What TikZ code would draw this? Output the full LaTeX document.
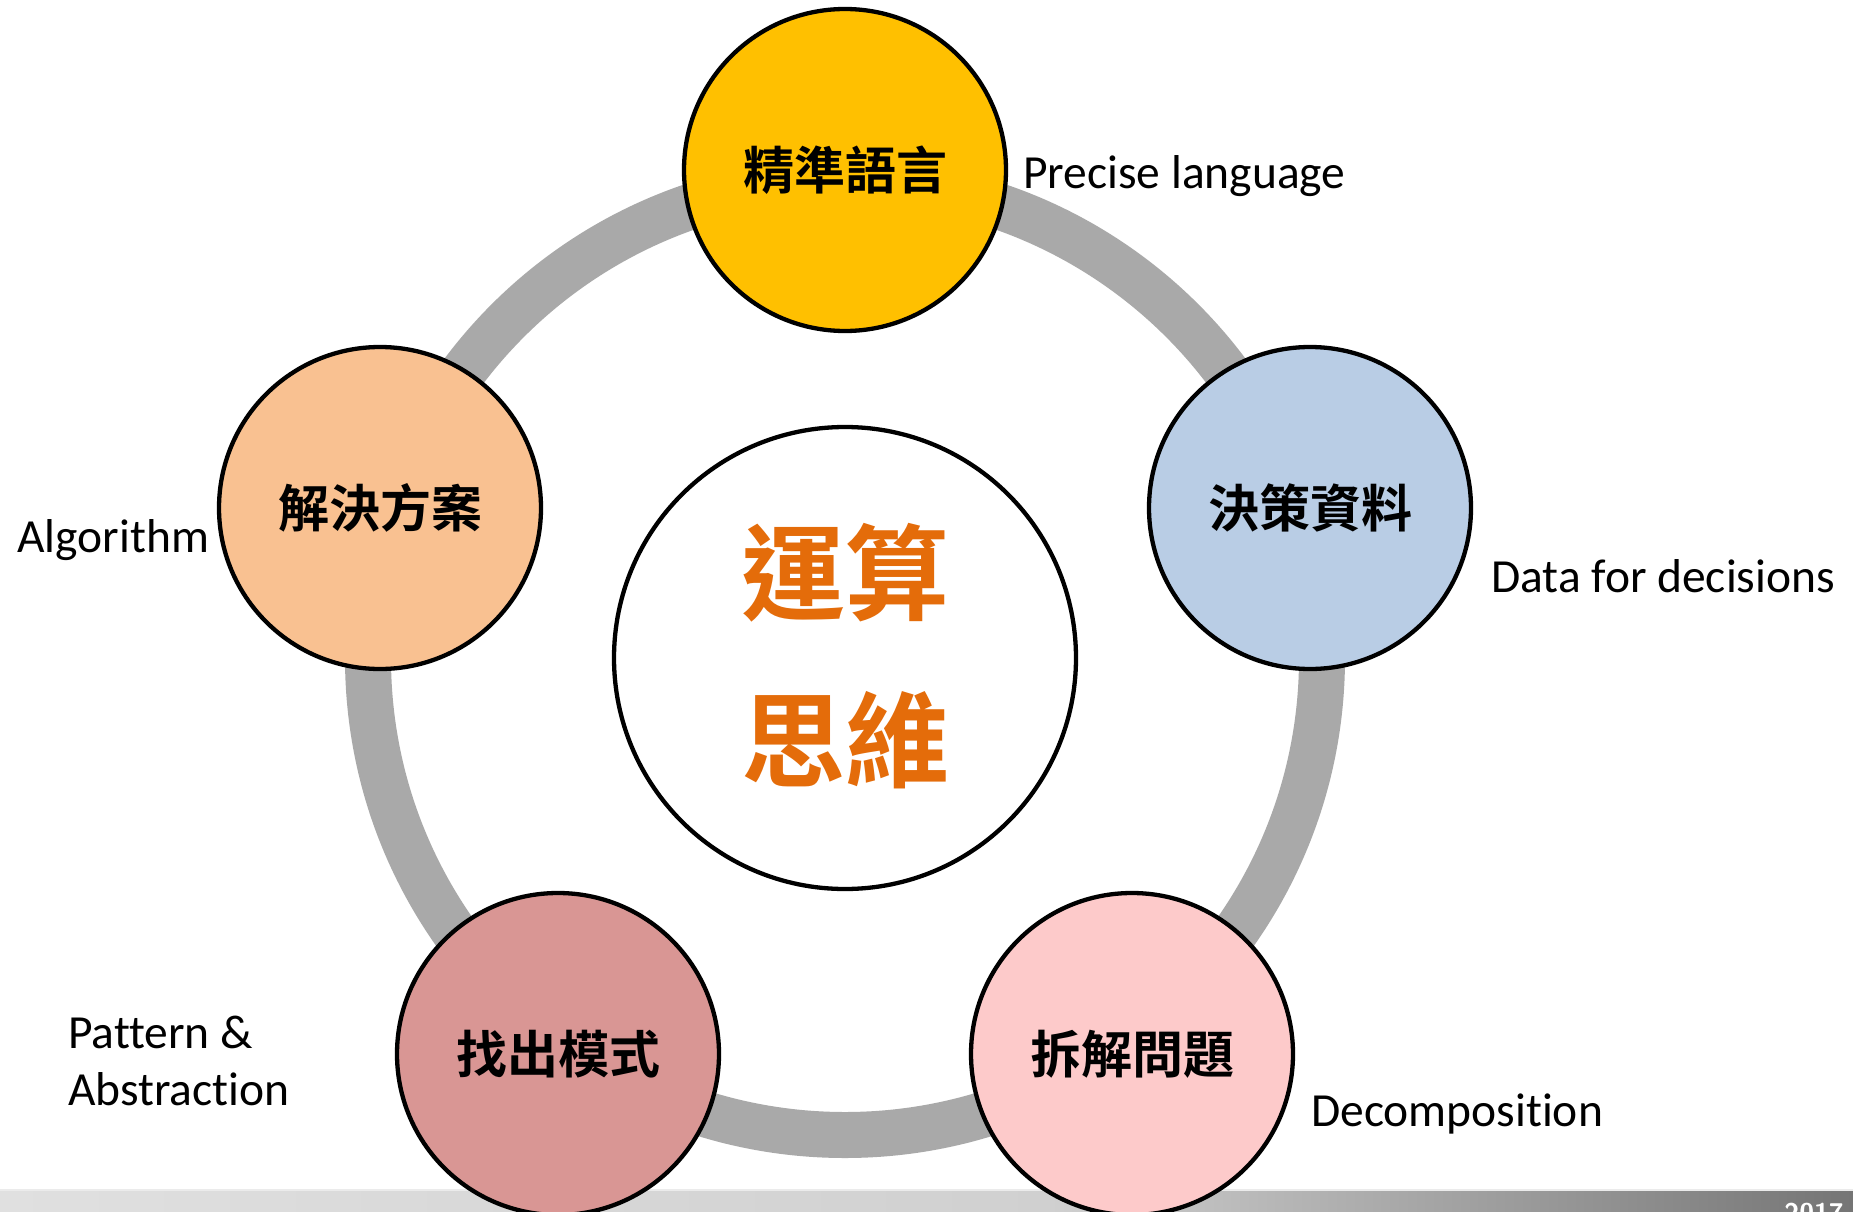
\documentclass[tikz,border=0pt]{standalone}
\usepackage{fontspec}
\setmainfont[Ligatures={NoCommon}]{Carlito}
\newfontfamily\cjkb{Noto Sans CJK TC Bold}
\usetikzlibrary{calc}
\definecolor{ringgray}{HTML}{A9A9A9}
\definecolor{cyellow}{HTML}{FFC000}
\definecolor{cpeach}{HTML}{F9C191}
\definecolor{cblue}{HTML}{B9CDE5}
\definecolor{crose}{HTML}{D99694}
\definecolor{cpink}{HTML}{FDCACA}
\definecolor{corange}{HTML}{E46C0A}
\tikzset{
  topic/.style={circle, draw=black, line width=4.3pt, minimum size=322pt, inner sep=0pt,
    font=\cjkb\fontsize{51}{60}\selectfont},
  eng/.style={inner sep=0pt, font=\fontsize{47.5}{56}\selectfont, anchor=base west},
}
\begin{document}
\begin{tikzpicture}[x=1pt,y=-1pt]
\useasboundingbox (0,0) rectangle (1853,1212);
\fill[white] (0,0) rectangle (1853,1212);
% bottom bar
\shade[left color={rgb,255:red,224;green,224;blue,224}, right color={rgb,255:red,208;green,208;blue,208}] (0,1190) rectangle (1050,1212);
\shade[left color={rgb,255:red,208;green,208;blue,208}, right color={rgb,255:red,117;green,117;blue,117}] (1050,1190) rectangle (1853,1212);
\fill[black!8] (0,1189) rectangle (1853,1191);
\node[text=white, font=\sffamily\bfseries\fontsize{27}{27}\selectfont, anchor=base east, inner sep=0pt] (yr) at (1844,1222) {2017};
% ring
\coordinate (c) at (845,658);
\draw[ringgray, line width=46pt] (c) circle[radius=477];
% centre
\node[circle, draw=black, line width=4.3pt, fill=white, minimum size=462pt, inner sep=0pt] (core) at (c) {};
\node[text=corange, font=\cjkb\fontsize{104}{104}\selectfont, anchor=center] (l1) at (845,573) {運算};
\node[text=corange, font=\cjkb\fontsize{104}{104}\selectfont, anchor=center] (l2) at (845,740) {思維};
% topics
\node[topic, fill=cyellow] (t1) at (845,170) {精準語言};
\node[topic, fill=cblue] (t2) at (1310,508) {決策資料};
\node[topic, fill=cpink] (t3) at (1132,1054) {拆解問題};
\node[topic, fill=crose] (t4) at (558,1054) {找出模式};
\node[topic, fill=cpeach] (t5) at (380,508) {解決方案};
% english labels
\node[eng] (e1) at (1023,188) {Precise language};
\node[eng] (e2) at (1491,592) {Data for decisions};
\node[eng] (e3) at (1311,1126) {Decomposition};
\node[eng] (e4) at (68,1048) {Pattern \&};
\node[eng] (e4b) at (68,1105) {Abstraction};
\node[eng] (e5) at (17,552) {Algorithm};
\end{tikzpicture}
\end{document}
